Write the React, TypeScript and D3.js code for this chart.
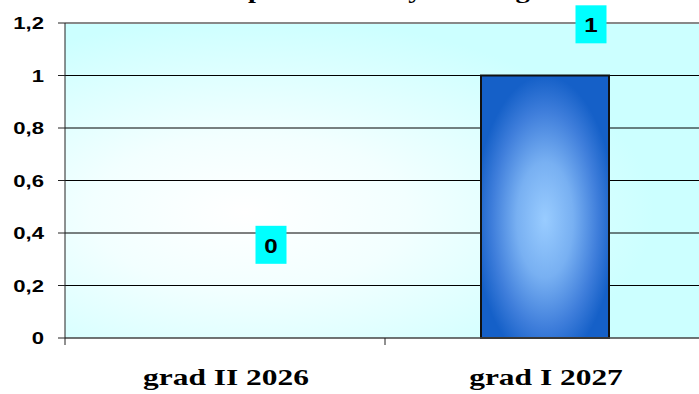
import React from "react";
import * as d3 from "d3";

const categories = ["grad II 2026", "grad I 2027"];
const values = [0, 1];
const yTicks = [0, 0.2, 0.4, 0.6, 0.8, 1, 1.2];
const labelAnchor = [0.355, 1.195];
const labelShift = [46, 46];
const titleText = "Upis učenika by škola i grad";

export default function App() {
  const W = 699, H = 394;
  const left = 65, right = 705, top = 23, bottom = 338;
  const x = d3.scaleBand<string>().domain(categories).range([left, right]).paddingInner(0.6).paddingOuter(0.3);
  const xOuter = d3.scaleBand<string>().domain(categories).range([left, right]);
  const y = d3.scaleLinear().domain([0, 1.2]).range([bottom, top]);
  const fmt = (v: number) => String(Math.round(v * 10) / 10).replace(".", ",");
  const sans = "'Liberation Sans', Arial, sans-serif";
  const serif = "'Liberation Serif', 'Times New Roman', serif";
  return (
    <svg width={W} height={H} style={{ position: "absolute", left: 0, top: 0 }}>
      <defs>
        <radialGradient id="bg" cx="0.3" cy="0.6" r="0.62" fx="0.28" fy="0.6">
          <stop offset="0" stopColor="#FFFFFF" />
          <stop offset="0.4" stopColor="#F2FFFF" />
          <stop offset="1" stopColor="#CCFFFF" />
        </radialGradient>
        <radialGradient id="barg" cx="0.5" cy="0.55" r="0.55">
          <stop offset="0" stopColor="#99CCFF" />
          <stop offset="0.4" stopColor="#78B0F2" />
          <stop offset="0.75" stopColor="#3F7EDB" />
          <stop offset="1" stopColor="#1560C8" />
        </radialGradient>
      </defs>
      <rect x={0} y={0} width={W} height={H} fill="#fff" />
      <text transform={`translate(400,-2) scale(1.3,1)`} textAnchor="middle" fontFamily={serif} fontWeight="bold" fontSize={22} fill="#000">{titleText}</text>
      <rect x={left} y={top} width={right - left} height={bottom - top} fill="url(#bg)" />
      {yTicks.slice(1, -1).map((t) => (
        <line key={t} x1={left} x2={right} y1={y(t)} y2={y(t)} stroke="#000" strokeWidth={1} />
      ))}
      <line x1={left} x2={right} y1={y(1.2)} y2={y(1.2)} stroke="#888" strokeWidth={2} />
      {values.map((v, i) => (
        v > 0 ? (
          <rect key={i} x={x(categories[i])!} y={y(v)} width={x.bandwidth()} height={y(0) - y(v)} fill="url(#barg)" stroke="#111" strokeWidth={2} />
        ) : null
      ))}
      <line x1={left} x2={right} y1={bottom} y2={bottom} stroke="#444" strokeWidth={1.5} />
      <line x1={left} x2={left} y1={top} y2={bottom + 7} stroke="#222" strokeWidth={1} />
      {yTicks.map((t) => (
        <g key={t}>
          <line x1={left - 7} x2={left} y1={y(t)} y2={y(t)} stroke="#222" />
          <text transform={`translate(44,${y(t) + 6}) scale(1.3,1)`} textAnchor="end" fontFamily={sans} fontWeight="bold" fontSize={17}>{fmt(t)}</text>
        </g>
      ))}
      {categories.map((c, i) => (
        <line key={"tk" + i} x1={xOuter(c)! + xOuter.bandwidth()} x2={xOuter(c)! + xOuter.bandwidth()} y1={bottom} y2={bottom + 7} stroke="#222" />
      ))}
      {categories.map((c) => (
        <text key={c} transform={`translate(${xOuter(c)! + xOuter.bandwidth() / 2 + 1},385) scale(1.31,1)`} textAnchor="middle" fontFamily={serif} fontWeight="bold" fontSize={24}>{c}</text>
      ))}
      {values.map((v, i) => {
        const cx = xOuter(categories[i])! + xOuter.bandwidth() / 2 + labelShift[i];
        const cy = y(labelAnchor[i]);
        return (
          <g key={"lb" + i}>
            <rect x={cx - 15.5} y={cy - 19} width={31} height={38} fill="#00FFFF" />
            <text transform={`translate(${cx},${cy + 8}) scale(1.15,1)`} textAnchor="middle" fontFamily={sans} fontWeight="bold" fontSize={21}>{String(v)}</text>
          </g>
        );
      })}
    </svg>
  );
}
